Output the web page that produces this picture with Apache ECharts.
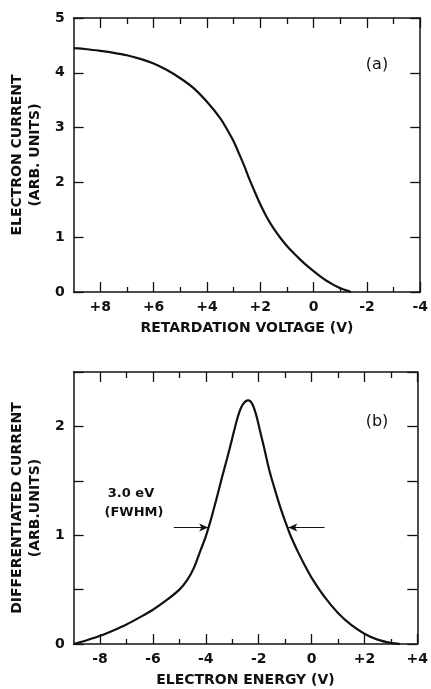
<!DOCTYPE html>
<html>
<head>
<meta charset="utf-8">
<script src="https://cdn.jsdelivr.net/npm/echarts@6/dist/echarts.min.js"></script>
<style>
html,body{margin:0;padding:0;background:#fff;}
#chart{width:431px;height:689px;}
</style>
</head>
<body>
<div id="chart"></div>
<script>
// ---- Panel (a): electron current vs retardation voltage ----
const voltageA = [9, 8.5, 8, 7.5, 7, 6.5, 6, 5.5, 5, 4.5, 4.0, 3.5, 3.2, 3.0, 2.8, 2.6, 2.4, 2.2, 2.0, 1.75, 1.5, 1.25, 1.0, 0.75, 0.5, 0.25, 0, -0.25, -0.5, -0.75, -1.0, -1.25, -1.4];
const currentA = [4.45, 4.43, 4.40, 4.365, 4.32, 4.255, 4.17, 4.05, 3.90, 3.72, 3.47, 3.17, 2.93, 2.75, 2.53, 2.30, 2.05, 1.82, 1.60, 1.36, 1.16, 0.99, 0.84, 0.71, 0.59, 0.48, 0.38, 0.285, 0.20, 0.13, 0.07, 0.025, 0];
const xMajorA = [8, 6, 4, 2, 0, -2, -4];
const xLabelsA = ['+8', '+6', '+4', '+2', '0', '-2', '-4'];
const xMinorA = [7, 5, 3, 1, -1, -3];

// ---- Panel (b): differentiated current vs electron energy ----
const energyB = [-9, -8.5, -8, -7.5, -7, -6.5, -6, -5.5, -5, -4.7, -4.45, -4.2, -4.0, -3.8, -3.6, -3.4, -3.2, -3.0, -2.8, -2.65, -2.5, -2.38, -2.25, -2.1, -1.95, -1.8, -1.6, -1.4, -1.2, -1.0, -0.8, -0.5, -0.25, 0, 0.5, 1.0, 1.5, 2.0, 2.5, 3.0, 3.35];
const diffB   = [0, 0.035, 0.075, 0.125, 0.18, 0.245, 0.315, 0.40, 0.50, 0.59, 0.70, 0.86, 0.99, 1.15, 1.33, 1.52, 1.70, 1.89, 2.08, 2.18, 2.23, 2.24, 2.21, 2.11, 1.96, 1.81, 1.60, 1.43, 1.27, 1.13, 1.00, 0.84, 0.72, 0.61, 0.43, 0.285, 0.175, 0.095, 0.04, 0.01, 0];
const xMajorB = [-8, -6, -4, -2, 0, 2, 4];
const xLabelsB = ['-8', '-6', '-4', '-2', '0', '+2', '+4'];
const xMinorB = [-7, -5, -3, -1, 1, 3];

// FWHM arrows (energy start, energy end, level)
const fwhmLeft = [-5.21, -3.91];
const fwhmRight = [0.49, -0.88];
const fwhmLevel = 1.07;

const FONT = 'DejaVu Sans';
const BLACK = '#111';

function xAxes(gridIndex, min, max, inverse, majors, labels, minors, name) {
  const base = {
    type: 'value', gridIndex, min, max, inverse,
    splitLine: {show: false},
  };
  const fmt = v => { const i = majors.indexOf(v); return i >= 0 ? labels[i] : ''; };
  return [
    Object.assign({}, base, {
      position: 'bottom',
      axisLine: {show: true, onZero: false, lineStyle: {color: BLACK, width: 1.5}},
      axisTick: {show: true, inside: true, length: 10, customValues: majors, lineStyle: {color: BLACK, width: 1.3}},
      axisLabel: {show: true, customValues: majors, formatter: fmt, margin: 8,
        fontFamily: FONT, fontWeight: 'bold', fontSize: 14, color: BLACK},
      name, nameLocation: 'middle', nameGap: 29,
      nameTextStyle: {fontFamily: FONT, fontWeight: 'bold', fontSize: 14, color: BLACK}
    }),
    Object.assign({}, base, {
      position: 'bottom',
      axisLine: {show: false, onZero: false},
      axisTick: {show: true, inside: true, length: 5, customValues: minors, lineStyle: {color: BLACK, width: 1.3}},
      axisLabel: {show: false}
    }),
    Object.assign({}, base, {
      position: 'top',
      axisLine: {show: true, onZero: false, lineStyle: {color: BLACK, width: 1.5}},
      axisTick: {show: true, inside: true, length: 10, customValues: majors, lineStyle: {color: BLACK, width: 1.3}},
      axisLabel: {show: false}
    }),
    Object.assign({}, base, {
      position: 'top',
      axisLine: {show: false, onZero: false},
      axisTick: {show: true, inside: true, length: 6, customValues: minors, lineStyle: {color: BLACK, width: 1.3}},
      axisLabel: {show: false}
    })
  ];
}

function yAxes(gridIndex, max, interval, name, labelFmt) {
  const base = {type: 'value', gridIndex, min: 0, max, interval, splitLine: {show: false}};
  return [
    Object.assign({}, base, {
      position: 'left',
      axisLine: {show: true, onZero: false, lineStyle: {color: BLACK, width: 1.5}},
      axisTick: {show: true, inside: true, length: 10, lineStyle: {color: BLACK, width: 1.3}},
      axisLabel: {show: true, margin: 9, formatter: labelFmt,
        fontFamily: FONT, fontWeight: 'bold', fontSize: 14, color: BLACK},
      name, nameLocation: 'middle', nameRotate: 90, nameGap: 19,
      nameTextStyle: {fontFamily: FONT, fontWeight: 'bold', fontSize: 14, lineHeight: 18, color: BLACK}
    }),
    Object.assign({}, base, {
      position: 'right',
      axisLine: {show: true, onZero: false, lineStyle: {color: BLACK, width: 1.5}},
      axisTick: {show: true, inside: true, length: 10, lineStyle: {color: BLACK, width: 1.3}},
      axisLabel: {show: false}
    })
  ];
}

const chart = echarts.init(document.getElementById('chart'), null, {renderer: 'canvas'});

const option = {
  animation: false,
  backgroundColor: '#fff',
  grid: [
    {left: 69, top: 18, width: 359, height: 274},
    {left: 68, top: 372, width: 360, height: 272}
  ],
  xAxis: [].concat(
    xAxes(0, -4, 9, true, xMajorA, xLabelsA, xMinorA, 'RETARDATION VOLTAGE (V)'),
    xAxes(1, -9, 4, false, xMajorB, xLabelsB, xMinorB, 'ELECTRON ENERGY (V)')
  ),
  yAxis: [].concat(
    yAxes(0, 5, 1, 'ELECTRON CURRENT\n(ARB. UNITS)', v => String(v)),
    yAxes(1, 2.5, 0.5, 'DIFFERENTIATED CURRENT\n(ARB.UNITS)', v => (Number.isInteger(v) ? String(v) : ''))
  ),
  series: [
    {
      type: 'line', xAxisIndex: 0, yAxisIndex: 0,
      data: voltageA.map((v, i) => [v, currentA[i]]),
      smooth: 0.3, showSymbol: false, silent: true,
      lineStyle: {color: BLACK, width: 2.2}
    },
    {
      type: 'line', xAxisIndex: 4, yAxisIndex: 2,
      data: energyB.map((v, i) => [v, diffB[i]]),
      smooth: 0.3, showSymbol: false, silent: true,
      lineStyle: {color: BLACK, width: 2.2},
      markLine: {
        silent: true,
        symbol: ['none', 'arrow'],
        symbolSize: [6, 9],
        label: {show: false},
        lineStyle: {color: BLACK, width: 1.2, type: 'solid'},
        data: [
          [{coord: [fwhmLeft[0], fwhmLevel]}, {coord: [fwhmLeft[1], fwhmLevel]}],
          [{coord: [fwhmRight[0], fwhmLevel]}, {coord: [fwhmRight[1], fwhmLevel]}]
        ]
      }
    }
  ],
  graphic: [
    {type: 'text', x: 377, y: 65, style: {text: '(a)', fontFamily: FONT, fontSize: 16, fill: BLACK, align: 'center', verticalAlign: 'middle'}},
    {type: 'text', x: 377, y: 422, style: {text: '(b)', fontFamily: FONT, fontSize: 16, fill: BLACK, align: 'center', verticalAlign: 'middle'}},
    {type: 'text', x: 131, y: 494, style: {text: '3.0 eV', fontFamily: FONT, fontWeight: 'bold', fontSize: 13, fill: BLACK, align: 'center', verticalAlign: 'middle'}},
    {type: 'text', x: 134, y: 513, style: {text: '(FWHM)', fontFamily: FONT, fontWeight: 'bold', fontSize: 13, fill: BLACK, align: 'center', verticalAlign: 'middle'}}
  ]
};
chart.setOption(option);
</script>
</body>
</html>
